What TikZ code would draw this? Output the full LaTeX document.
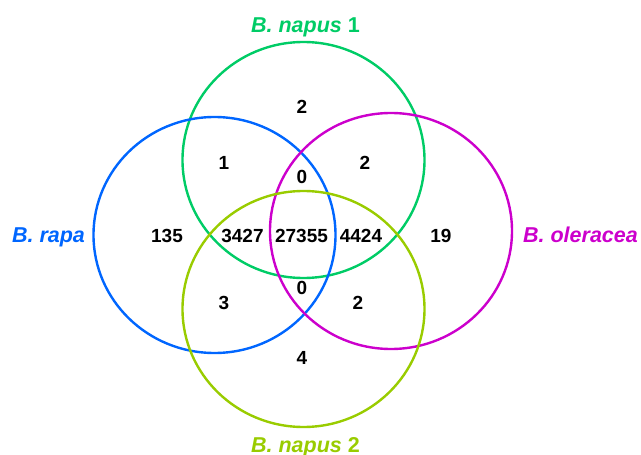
\documentclass[tikz,border=0pt]{standalone}
\usepackage{fontspec}
\setmainfont{Liberation Sans}
\usetikzlibrary{shapes.geometric}
\definecolor{cgreen}{RGB}{0,204,102}
\definecolor{cblue}{RGB}{0,102,255}
\definecolor{cmag}{RGB}{204,0,204}
\definecolor{cyel}{RGB}{153,204,0}
\tikzset{
  set/.style={ellipse, draw=#1, line width=2.4pt, minimum width=242pt, minimum height=236pt, inner sep=0pt},
  num/.style={font=\fontsize{19}{19}\selectfont\bfseries, inner sep=0pt},
  lbl/.style={text=#1, font=\fontsize{21.5}{21.5}\selectfont\bfseries, inner sep=0pt, anchor=base}
}
\begin{document}
\begin{tikzpicture}[x=1pt,y=-1pt]
\useasboundingbox (0,0) rectangle (641,455);
\node[set=cgreen] (napusA) at (303.5,160) {};
\node[set=cblue] (rapa) at (214.5,235) {};
\node[set=cmag] (oler) at (391,231) {};
\node[set=cyel] (napusB) at (303.5,309) {};
\node[lbl=cgreen] (lA) at (305.5,32.5) {\itshape B. napus\/\upshape\ 1};
\node[lbl=cblue] (lR) at (48.5,242) {\itshape B. rapa};
\node[lbl=cmag] (lO) at (580.5,242) {\itshape B. oleracea};
\node[lbl=cyel] (lB) at (305.5,452) {\itshape B. napus\/\upshape\ 2};
\node[num] (n1) at (302,107) {2};
\node[num] (n2) at (224,163) {1};
\node[num] (n3) at (365,163) {2};
\node[num] (n4) at (302,177) {0};
\node[num] (n5) at (167,236) {135};
\node[num] (n6) at (242.5,236) {3427};
\node[num] (n7) at (301.5,236) {27355};
\node[num] (n8) at (361,236) {4424};
\node[num] (n9) at (441,236) {19};
\node[num] (n10) at (302,288) {0};
\node[num] (n11) at (224,303) {3};
\node[num] (n12) at (358,303) {2};
\node[num] (n13) at (302,358) {4};
\end{tikzpicture}
\end{document}
